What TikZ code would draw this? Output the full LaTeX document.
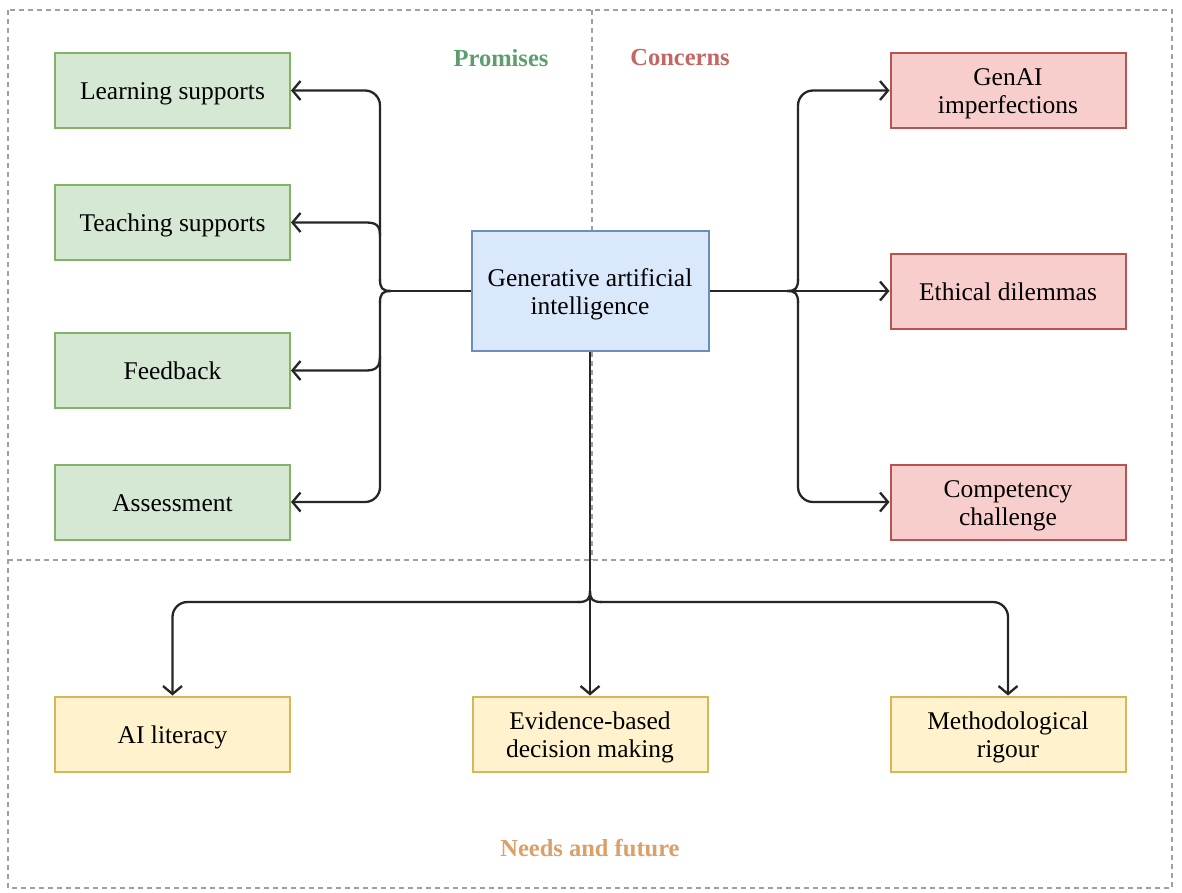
\documentclass[tikz,border=0pt]{standalone}
\usepackage{fontspec}
\setmainfont{Liberation Serif}
\usetikzlibrary{arrows.meta}
\definecolor{gfill}{HTML}{D5E8D4}
\definecolor{gdraw}{HTML}{82B366}
\definecolor{bfill}{HTML}{DAE8FC}
\definecolor{bdraw}{HTML}{6C8EBF}
\definecolor{rfill}{HTML}{F8CECC}
\definecolor{rdraw}{HTML}{B85450}
\definecolor{yfill}{HTML}{FFF2CC}
\definecolor{ydraw}{HTML}{D6B656}
\definecolor{tgreen}{HTML}{5E9E6E}
\definecolor{tred}{HTML}{C46664}
\definecolor{torange}{HTML}{D9A06A}
\definecolor{dashgray}{HTML}{A0A0A0}
\newcommand\topstrut{\rule{0pt}{24pt}}
\newcommand\botstrut{\rule[-6pt]{0pt}{6pt}}
\begin{document}
\begin{tikzpicture}[x=1pt,y=-1pt,
  box/.style={line width=2pt, minimum width=235pt, minimum height=75pt, align=center,
    font=\fontsize{25.5}{28}\selectfont, inner sep=0pt},
  gbox/.style={box, draw=gdraw, fill=gfill},
  rbox/.style={box, draw=rdraw, fill=rfill},
  ybox/.style={box, draw=ydraw, fill=yfill},
  bbox/.style={box, draw=bdraw, fill=bfill, minimum width=237pt, minimum height=120pt},
  conn/.style={line width=2.3pt, draw=black!85},
  arr/.style={conn, -{Straight Barb[length=8pt,width=19pt]}},
  sep/.style={draw=dashgray, line width=1.2pt, dash pattern=on 5pt off 4pt},
  head/.style={font=\fontsize{24.5}{28}\selectfont\bfseries}
]
\useasboundingbox (0,0) rectangle (1182,892);
\fill[white] (0,0) rectangle (1182,892);
% separators
\draw[sep] (8,10) rectangle (1172,888);
\draw[sep] (592,10) -- (592,560);
\draw[sep] (8,560) -- (1172,560);
% headings
\node[head, text=tgreen] (hp) at (501,58) {Promises};
\node[head, text=tred] (hc) at (680,58) {Concerns};
\node[head, text=torange] (hn) at (590,848) {Needs and future};
% nodes
\node[gbox] (ls) at (172.5,90.5) {\topstrut Learning supports\botstrut};
\node[gbox] (ts) at (172.5,222.5) {\topstrut Teaching supports\botstrut};
\node[gbox] (fb) at (172.5,370.5) {\topstrut Feedback\botstrut};
\node[gbox] (as) at (172.5,502) {\topstrut Assessment\botstrut};
\node[bbox] (gai) at (590,291) {\topstrut Generative artificial\\intelligence\botstrut};
\node[rbox] (gi) at (1008,90.5) {\topstrut GenAI\\imperfections\botstrut};
\node[rbox] (ed) at (1008,291) {\topstrut Ethical dilemmas\botstrut};
\node[rbox] (cc) at (1008,502) {\topstrut Competency\\challenge\botstrut};
\node[ybox] (ail) at (172.5,734) {\topstrut AI literacy\botstrut};
\node[ybox] (ebd) at (590,734) {\topstrut Evidence-based\\decision making\botstrut};
\node[ybox] (mr) at (1008,734) {\topstrut Methodological\\rigour\botstrut};
% left brace
\coordinate (ltip) at (391,291);
\draw[conn] (gai.west) -- (ltip);
\draw[conn] (ltip) .. controls (382,291) and (380,288) .. (380,279);
\draw[conn] (ltip) .. controls (382,291) and (380,294) .. (380,303);
\draw[arr, rounded corners=15pt] (380,281) |- (ls.east);
\draw[arr, rounded corners=15pt] (380,301) |- (as.east);
\draw[arr] (380,236) .. controls (380,226) and (377,222.5) .. (366,222.5) -- (ts.east);
\draw[arr] (380,356) .. controls (380,366) and (377,370.5) .. (366,370.5) -- (fb.east);
% right brace
\coordinate (rtip) at (787,291);
\draw[conn] (gai.east) -- (rtip);
\draw[arr] (rtip) -- (ed.west);
\draw[conn] (rtip) .. controls (796,291) and (798,288) .. (798,279);
\draw[conn] (rtip) .. controls (796,291) and (798,294) .. (798,303);
\draw[arr, rounded corners=15pt] (798,281) |- (gi.west);
\draw[arr, rounded corners=15pt] (798,301) |- (cc.west);
% bottom brace
\coordinate (btip) at (590,591);
\draw[arr] (gai.south) -- (ebd.north);
\draw[conn] (btip) .. controls (590,600) and (587,602) .. (578,602);
\draw[conn] (btip) .. controls (590,600) and (593,602) .. (602,602);
\draw[arr, rounded corners=15pt] (580,602) -| (ail.north);
\draw[arr, rounded corners=15pt] (600,602) -| (mr.north);
\end{tikzpicture}
\end{document}
